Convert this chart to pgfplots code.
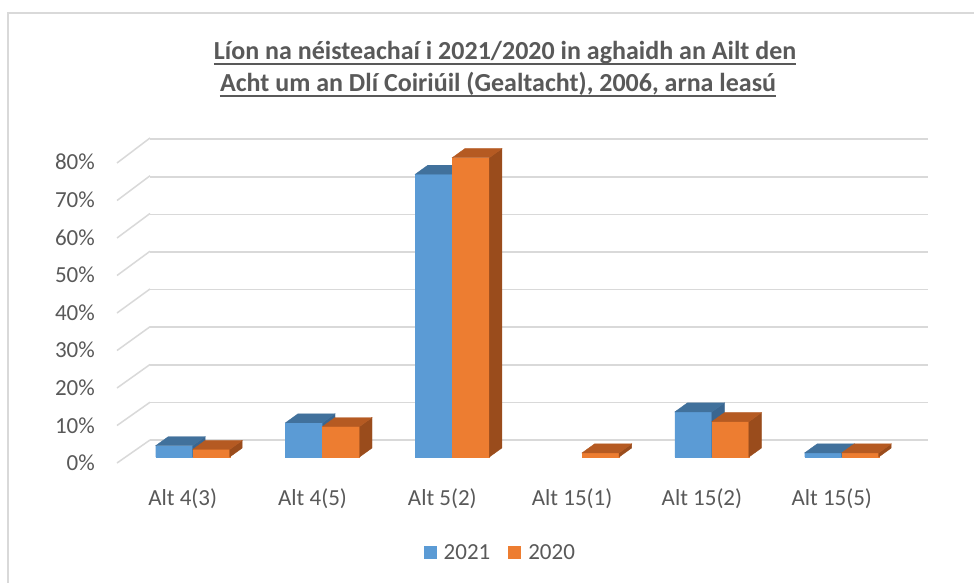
\documentclass[border=0pt]{standalone}
\usepackage{pgfplots}
\pgfplotsset{compat=1.18}
\usepackage{fontspec}
\setmainfont{Carlito}
\definecolor{blueF}{HTML}{5B9BD5}
\definecolor{blueT}{HTML}{41719C}
\definecolor{blueS}{HTML}{3A6690}
\definecolor{orF}{HTML}{ED7D31}
\definecolor{orT}{HTML}{B55A22}
\definecolor{orS}{HTML}{9A4C1C}
\definecolor{gridc}{HTML}{D9D9D9}
\definecolor{txt}{HTML}{595959}
\pgfdeclareplotmark{empty}{}
\newcommand\lblfont{\fontsize{23}{27}\selectfont}
\newcommand\ttlfont{\fontsize{26}{30}\selectfont\bfseries}
\begin{document}
\begin{tikzpicture}[x=1pt,y=1pt]
\useasboundingbox (0,0) rectangle (974,-583);
\begin{scope}
\clip (0,0) rectangle (974,-583);
\fill[white] (0,0) rectangle (974,-583);
\draw[gridc, line width=2pt] (8,-13) rectangle (990,-600);
\end{scope}
% side wall grid lines
\foreach \v in {0,10,...,80}{
  \draw[gridc, line width=1.5pt] (117,{-463+3.75*\v}) -- (150,{-440+3.775*\v});
}
% title
\node[text=txt, font=\ttlfont, anchor=base, inner sep=0pt] (t1) at (505,-60) {Líon na néisteachaí i 2021/2020 in aghaidh an Ailt den};
\node[text=txt, font=\ttlfont, anchor=base, inner sep=0pt] (t2) at (498,-92) {Acht um an Dlí Coiriúil (Gealtacht), 2006, arna leasú};
\draw[txt, line width=1.8pt] ([yshift=-4pt]t1.base west) -- ([yshift=-4pt]t1.base east);
\draw[txt, line width=1.8pt] ([yshift=-4pt]t2.base west) -- ([yshift=-4pt]t2.base east);
\begin{axis}[
  at={(125.6pt,-457pt)}, anchor=south west,
  x=129.8pt, y=3.76pt,
  xmin=-0.517, xmax=5.477, ymin=0, ymax=80,
  clip=false,
  axis line style={draw=none},
  major tick length=0pt,
  ytick={0,10,...,80},
  yticklabels={0\%,10\%,20\%,30\%,40\%,50\%,60\%,70\%,80\%},
  ymajorgrids,
  major grid style={gridc, line width=1.5pt, shift={(24.4pt,17pt)}},
  xtick={0,1,2,3,4,5},
  xticklabels={Alt 4(3),Alt 4(5),Alt 5(2),Alt 15(1),Alt 15(2),Alt 15(5)},
  tick label style={font=\lblfont, text=txt},
  yticklabel style={anchor=east, inner sep=0pt, xshift=-30.6pt, yshift=-6pt},
  xticklabel style={anchor=base, inner sep=0pt, xshift=-10pt, yshift=-48pt},
  legend style={at={(0.481,-0.319)}, anchor=center, draw=none, fill=none,
     legend columns=2, font=\lblfont, text=txt,
     nodes={inner sep=1pt},
     /tikz/every odd column/.append style={column sep=6pt},
     /tikz/every even column/.append style={column sep=17pt}},
]
% 2021 front faces
\addplot[ybar, bar width=37pt, bar shift=-18.5pt, fill=blueF, draw=none,
  legend image code/.code={\fill[blueF] (0pt,-6.5pt) rectangle (13pt,6.5pt);}]
  coordinates {(0,3.0) (1,9.1) (2,75.2) (4,12.0) (5,1.1)};
\addlegendentry{2021}
% 2021 cuboids (front, side, top)
\addplot[forget plot, scatter, only marks, mark=empty,
  visualization depends on={rawy \as \hv},
  scatter/@pre marker code/.code={
    \fill[blueF] (-37pt,0pt) rectangle (0pt,{-\hv*3.76pt});
    \fill[blueS] (0pt,0pt) -- (12.5pt,9pt) -- (12.5pt,{9pt-\hv*3.76pt}) -- (0pt,{-\hv*3.76pt}) -- cycle;
    \fill[blueT] (-37pt,0pt) -- (0pt,0pt) -- (12.5pt,9pt) -- (-24.5pt,9pt) -- cycle;
  },
  scatter/@post marker code/.code={}]
  coordinates {(0,3.0) (1,9.1) (2,75.2) (4,12.0) (5,1.1)};
% 2020 front faces
\addplot[ybar, bar width=37pt, bar shift=18.5pt, fill=orF, draw=none,
  legend image code/.code={\fill[orF] (0pt,-6.5pt) rectangle (13pt,6.5pt);}]
  coordinates {(0,2.0) (1,8.1) (2,79.6) (3,1.1) (4,9.4) (5,1.1)};
\addlegendentry{2020}
% 2020 cuboids (front, side, top)
\addplot[forget plot, scatter, only marks, mark=empty,
  visualization depends on={rawy \as \hv},
  scatter/@pre marker code/.code={
    \fill[orF] (0pt,0pt) rectangle (37pt,{-\hv*3.76pt});
    \fill[orS] (37pt,0pt) -- (49.5pt,9pt) -- (49.5pt,{9pt-\hv*3.76pt}) -- (37pt,{-\hv*3.76pt}) -- cycle;
    \fill[orT] (0pt,0pt) -- (37pt,0pt) -- (49.5pt,9pt) -- (12.5pt,9pt) -- cycle;
  },
  scatter/@post marker code/.code={}]
  coordinates {(0,2.0) (1,8.1) (2,79.6) (3,1.1) (4,9.4) (5,1.1)};
\end{axis}
\end{tikzpicture}
\end{document}
